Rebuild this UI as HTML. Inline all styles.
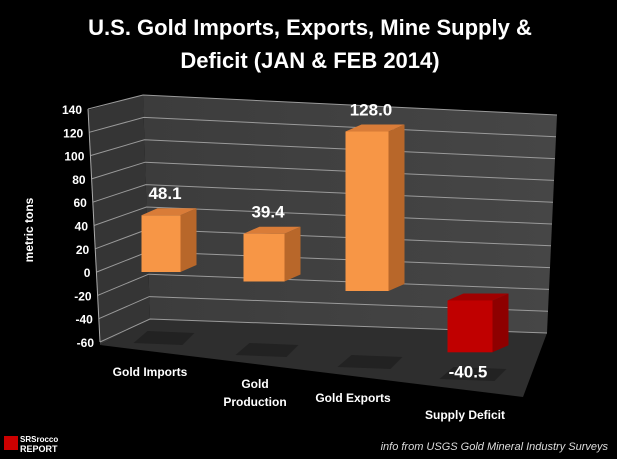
<!DOCTYPE html>
<html><head><meta charset="utf-8"><style>
html,body{margin:0;padding:0;background:#000;}
svg{display:block;}
text{font-family:"Liberation Sans",sans-serif;}
</style></head><body>
<svg id="c" width="617" height="459" viewBox="0 0 617 459" xmlns="http://www.w3.org/2000/svg">
<defs>
<linearGradient id="wall" x1="0" y1="0" x2="1" y2="0"><stop offset="0" stop-color="#3c3c3c"/><stop offset="1" stop-color="#464646"/></linearGradient>
</defs>
<rect width="617" height="459" fill="#000"/>
<text x="310" y="35" text-anchor="middle" fill="#fff" font-size="22" font-weight="bold">U.S. Gold Imports, Exports, Mine Supply &amp;</text>
<text x="310" y="68" text-anchor="middle" fill="#fff" font-size="22" font-weight="bold">Deficit  (JAN &amp; FEB 2014)</text>
<polygon points="88,110 143,95 150,319 100,345" fill="#353535"/>
<polygon points="143,95 557,115 547,333 150,319" fill="url(#wall)"/>
<polygon points="100,345 150,319 547,333 523,397" fill="#2e2e2e"/>
<g id="grid"></g>
<g id="bars"></g>
<text transform="translate(33,230) rotate(-90)" text-anchor="middle" fill="#fff" font-size="12" font-weight="bold">metric tons</text>
<g>
<rect x="4" y="436" width="14" height="14" fill="#c00"/>
<text x="20" y="442" fill="#fff" font-size="8" font-weight="bold">SRSrocco</text>
<text x="20" y="452" fill="#fff" font-size="9" font-weight="bold">REPORT</text>
</g>
<text x="608" y="450" text-anchor="end" fill="#ddd" font-size="11" font-style="italic">info from USGS Gold Mineral Industry Surveys</text>
</svg>
<script>
const categories = ["Gold Imports", "Gold Production", "Gold Exports", "Supply Deficit"];
const values = [48.1, 39.4, 128.0, -40.5];
const valueLabels = ["48.1", "39.4", "128.0", "-40.5"];
const yTicks = [140, 120, 100, 80, 60, 40, 20, 0, -20, -40, -60];

const NS = "http://www.w3.org/2000/svg";
function mk(tag, attrs, parent) {
  const e = document.createElementNS(NS, tag);
  for (const k in attrs) e.setAttribute(k, attrs[k]);
  parent.appendChild(e);
  return e;
}
const grid = document.getElementById('grid');
const bars = document.getElementById('bars');
function t(v) { return (140 - v) / 200; }
function axisPt(v) { return [88 + 12 * t(v), 109 + 233 * t(v)]; }
function backL(v) { return [143 + 7 * t(v), 95 + 224 * t(v)]; }
function backR(v) { return [557 - 10 * t(v), 115 + 218 * t(v)]; }

yTicks.forEach(v => {
  const a = axisPt(v), l = backL(v), r = backR(v);
  const p = mk('polyline', {points: `${a[0]},${a[1]} ${l[0]},${l[1]} ${r[0]},${r[1]}`, fill: 'none', stroke: '#9a9a9a', 'stroke-width': 1}, grid);
  
  
  const tx = mk('text', {x: a[0] - 6, y: a[1] + 5, 'text-anchor': 'end', fill: '#fff', 'font-size': 12, 'font-weight': 'bold'}, grid);
  tx.textContent = String(v);
  
  
});
const axl = mk('line', {x1: 88, y1: 109, x2: 100, y2: 342, stroke: '#aaa'}, grid);



const catLabelPos = [[150, 376, 1], [255, 388, 2], [353, 402, 1], [465, 419, 1]];
categories.forEach((c, i) => {
  const cx = 161 + 103 * i;
  const zero = 272 + 9.5 * i;
  const sc = 1.18 + 0.033 * i;
  const w = 39 + 2 * i;
  const x0 = cx - w / 2, x1 = cx + w / 2;
  const yv = zero - values[i] * sc;
  const top = Math.min(yv, zero), bot = Math.max(yv, zero);
  const dx = 16, dy = -7;
  const neg = values[i] < 0;
  const front = neg ? '#c00000' : '#f79646';
  const side = neg ? '#8e0000' : '#b8672a';
  const topc = neg ? '#a00000' : '#d97c38';
  const g = mk('g', {}, bars);
  
  
  const fy = 333 + 12 * i;
  mk('polygon', {points: `${x0 - 8},${fy + 10} ${x1 + 2},${fy + 12} ${x1 + 14},${fy} ${x0 + 6},${fy - 2}`, fill: '#222'}, g);
  mk('rect', {x: x0, y: top, width: w, height: bot - top, fill: front}, g);
  mk('polygon', {points: `${x1},${top} ${x1 + dx},${top + dy} ${x1 + dx},${bot + dy} ${x1},${bot}`, fill: side}, g);
  mk('polygon', {points: `${x0},${top} ${x0 + dx},${top + dy} ${x1 + dx},${top + dy} ${x1},${top}`, fill: topc}, g);
  const ly = neg ? bot + 25 : top - 16;
  const lx = neg ? cx - 2 : cx + 4;
  const lt = mk('text', {x: lx, y: ly, 'text-anchor': 'middle', fill: '#fff', 'font-size': 17, 'font-weight': 'bold'}, bars);
  lt.textContent = valueLabels[i];
  
  
  const lp = catLabelPos[i];
  const ct = mk('text', {x: lp[0], y: lp[1], 'text-anchor': 'middle', fill: '#fff', 'font-size': 12, 'font-weight': 'bold'}, bars);
  
  
  if (lp[2] === 2) {
    const parts = c.split(' ');
    const s1 = mk('tspan', {x: lp[0], dy: 0}, ct); s1.textContent = parts[0];
    const s2 = mk('tspan', {x: lp[0], dy: 18}, ct); s2.textContent = parts[1];
  } else ct.textContent = c;
});
</script>
</body></html>
